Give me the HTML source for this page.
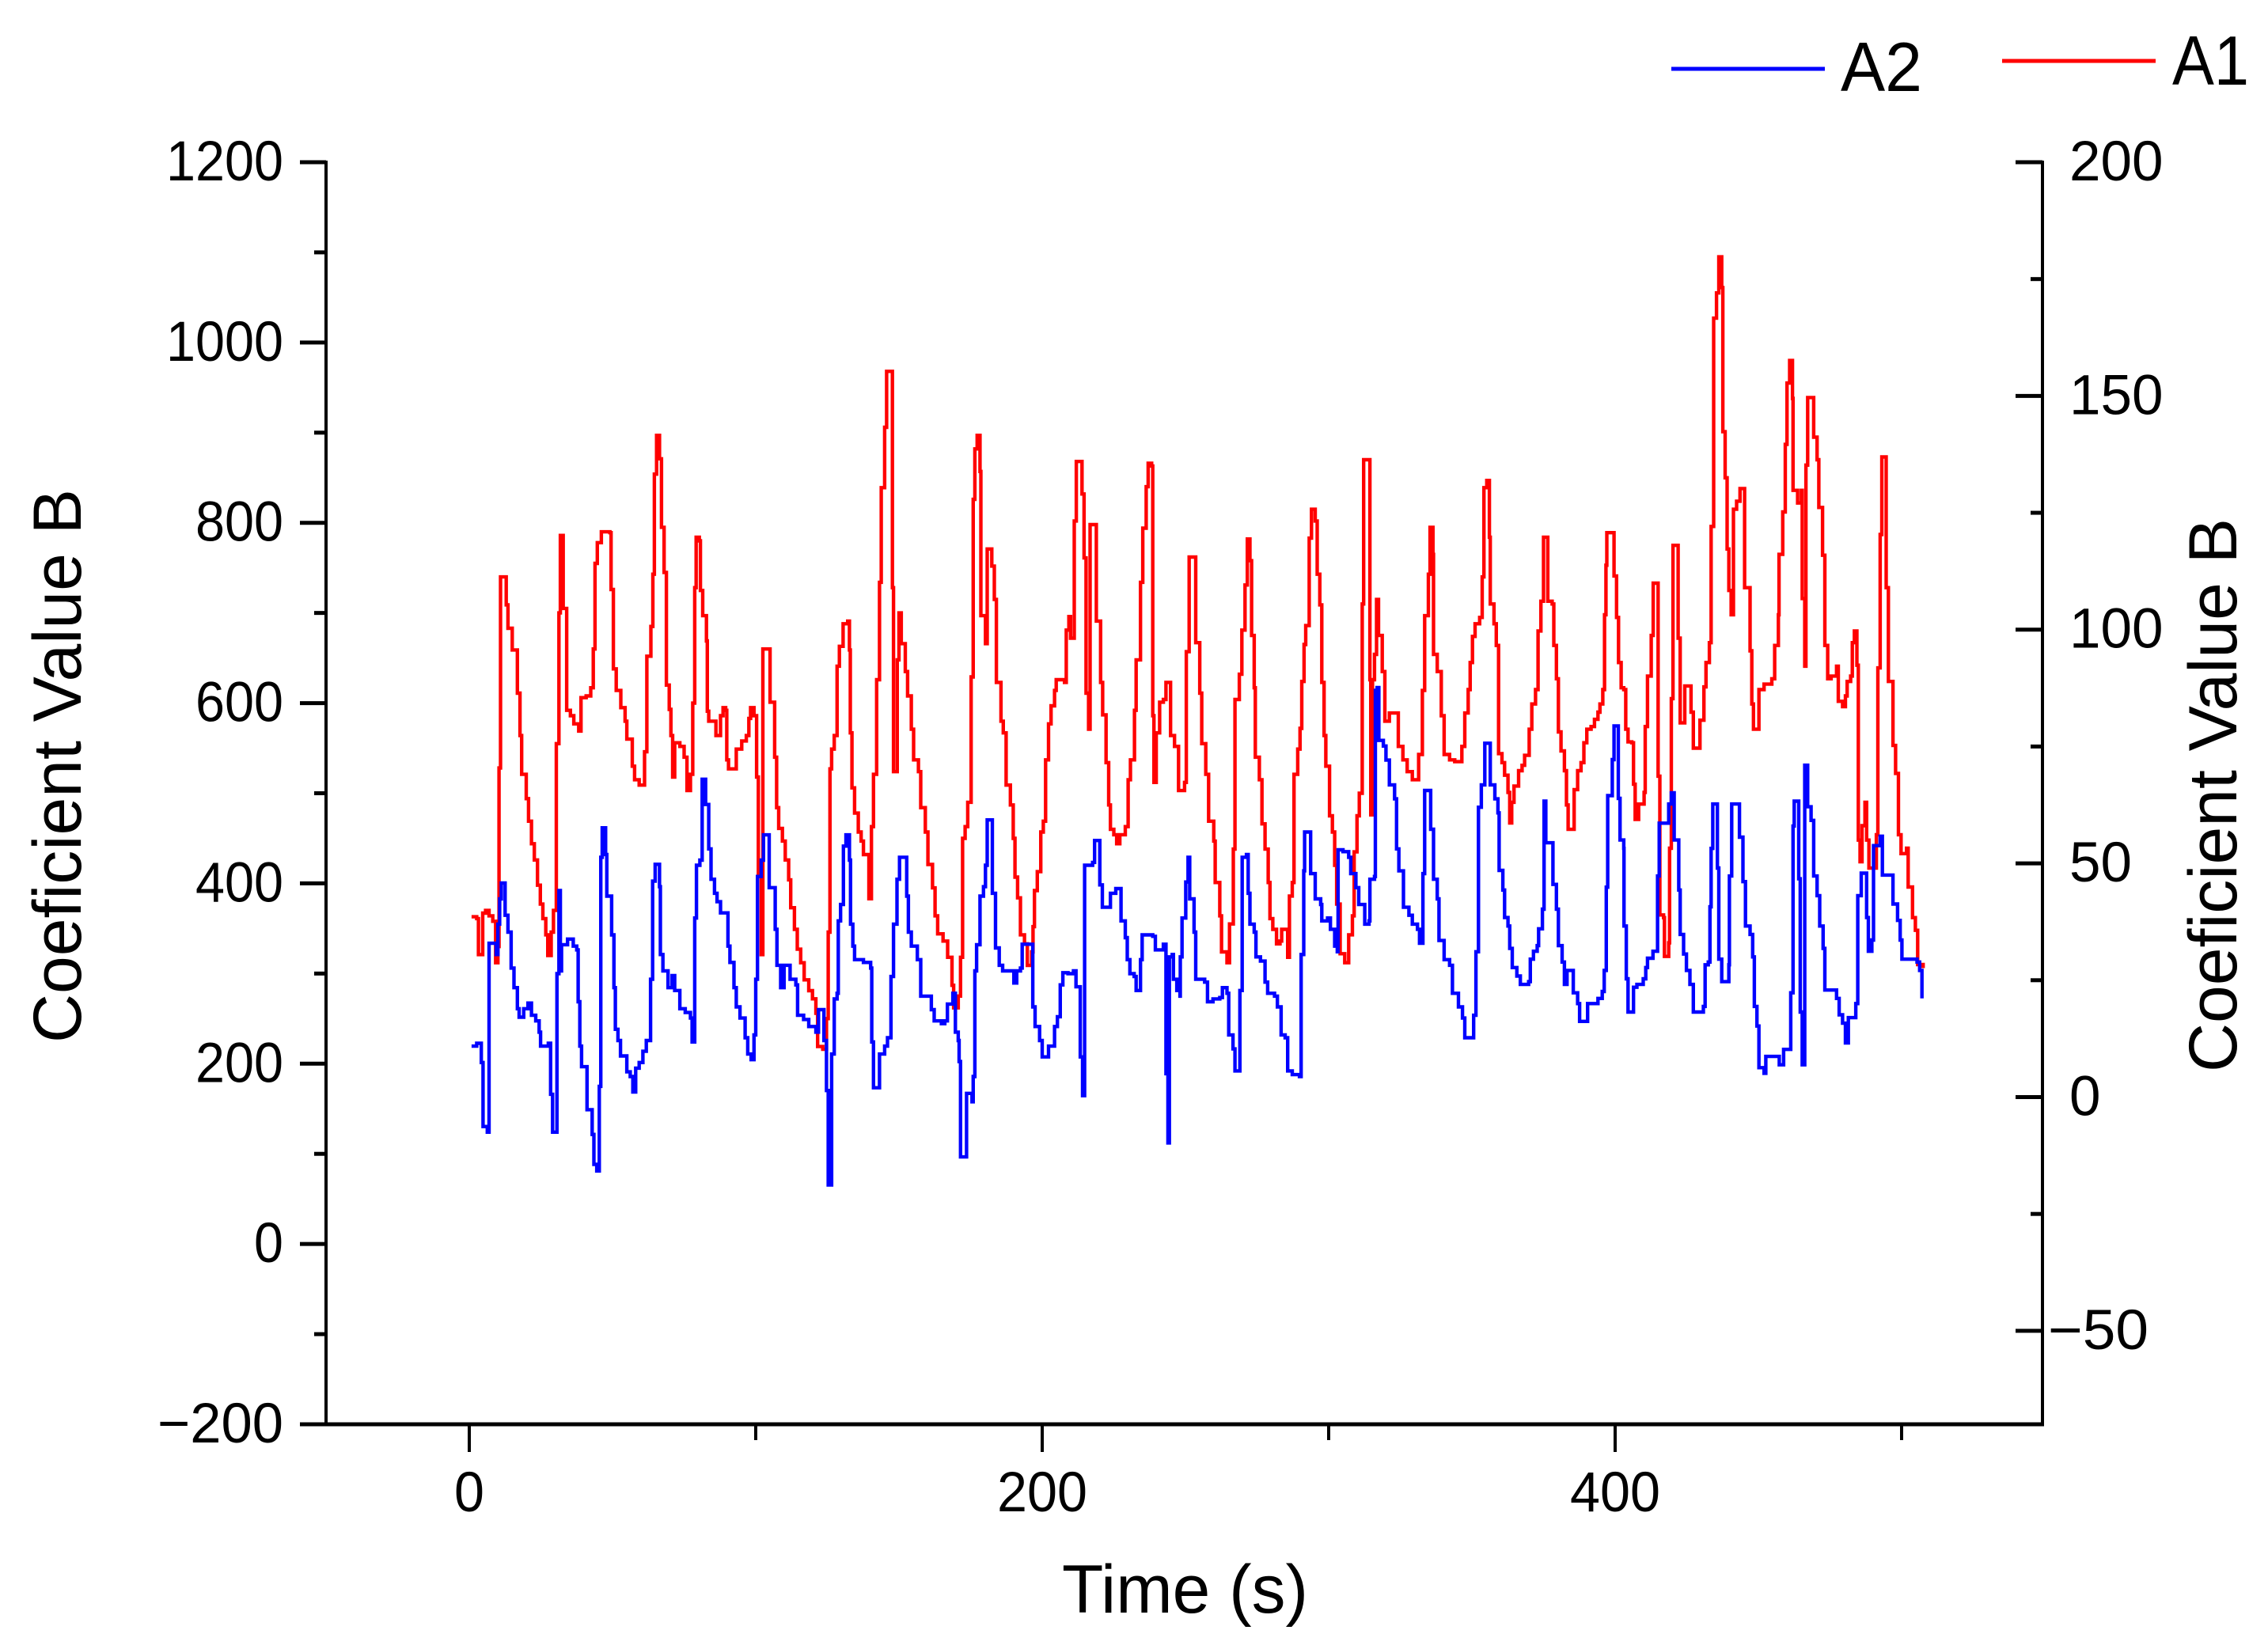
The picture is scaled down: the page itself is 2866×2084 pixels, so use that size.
<!DOCTYPE html>
<html lang="en">
<head>
<meta charset="utf-8">
<title>Coefficient Value B over Time</title>
<style>
html,body{margin:0;padding:0;background:#fff;}
svg{display:block;font-family:"Liberation Sans",Arial,sans-serif;fill:#000;}
</style>
</head>
<body>
<svg id="chart" xmlns="http://www.w3.org/2000/svg" width="2866" height="2084" viewBox="0 0 2866 2084">
  <rect x="0" y="0" width="2866" height="2084" fill="#ffffff"/>
  <g id="marks"></g>
  <g id="axes"></g>
  <text transform="translate(102,1318) rotate(-90)" font-size="86" textLength="700" lengthAdjust="spacingAndGlyphs">Coeficient Value B</text>
  <text transform="translate(2826,1355) rotate(-90)" font-size="86" textLength="700" lengthAdjust="spacingAndGlyphs">Coeficient Value B</text>
  <text x="1342" y="2038" font-size="86" textLength="311" lengthAdjust="spacingAndGlyphs">Time (s)</text>
  <g>
    <rect x="2112" y="84.5" width="194" height="5" fill="#0000ff"/>
    <text x="2326" y="115" font-size="88" textLength="103" lengthAdjust="spacingAndGlyphs">A2</text>
  </g>
  <g>
    <rect x="2530" y="74.5" width="194" height="5" fill="#ff0000"/>
    <text x="2745" y="107" font-size="88" textLength="97" lengthAdjust="spacingAndGlyphs">A1</text>
  </g>
</svg>
<script>
const a1Times = [
0.8,2.6,3.2,4.7,5.7,6.9,8.2,9.2,10,10.4,10.9,12.9,13.5,15,16.8,17.7,18.3,19.9,20.7,21.7,
22.7,23.8,24.8,25.7,26.7,27.4,28.6,29.4,30.4,31.3,31.8,32.8,34,35.3,36.5,38.2,39,40.8,42.4,43.3,
43.9,44.7,46.1,49.1,49.5,50.3,51.3,52.9,54.4,55,56.9,57.7,59.3,61.2,62,63.4,64.1,64.6,65.4,66.4,
67.1,68,68.8,69.8,70.4,71,71.7,73.5,75,76,77.2,78,78.7,79.2,80.3,80.7,81.5,82.8,83.1,83.6,
85.2,86.1,87.7,88.6,89.5,89.9,90.5,92.3,93.2,95.1,96.7,97.6,98.2,99.4,100.3,100.9,101.9,102.5,104.1,105,
106.6,107.3,108,109.3,110.3,111.5,112.2,113.5,114.5,115.7,116.9,118.5,119.8,121,121.6,123.4,124.7,125.3,125.9,126.5,
127.4,128.4,129.2,130.5,132.1,132.7,133,133.6,134.5,135.8,136.8,137.6,139.5,140.4,141.1,142.2,143.2,143.8,145,145.7,
147.7,148.1,149.4,150,150.8,152.2,153,154.3,155.1,156.8,157.6,159.2,160.1,161.7,162.6,163.5,165.4,167,168.5,169.1,
170.7,171.5,172.2,173.1,174,175.2,175.9,176.5,177.3,178.3,178.6,180.2,180.8,182.4,183.3,184,185.6,186.4,187.4,188.9,
189.9,190.5,191.4,192.4,193.8,194.8,196.3,196.8,197.3,198.3,199.5,200.4,201.2,202.2,203.1,204.3,204.9,207.8,208.4,209.3,
209.9,211.2,211.9,213.9,214.6,215.3,216.2,216.7,218.9,220.4,221.1,222.3,223.2,223.8,225,226,227.1,229,230,230.8,
232.2,232.8,234.3,235.1,236.3,237,238.2,238.6,239,239.8,241,242.3,243.2,244.8,246.2,247.6,249.7,250.3,251.3,253.6,
255,255.7,257.1,258.1,259.9,260.4,262,262.6,264.5,265.4,266.7,267.3,268.8,269.7,270.8,271.6,272.5,273.1,274,274.4,
275.8,276.7,277.8,278.9,279.5,280.5,281.8,283,283.6,285.1,285.7,286.3,287.3,287.9,289.2,290,290.6,291.4,292,293.2,
294,295.3,296,296.9,297.6,298.4,299,300.3,301.3,302.1,302.8,304,305.6,307,308.3,308.9,309.9,310.7,311.7,312.2,
314.4,314.7,315.3,316,316.7,317.4,318.7,319.6,321.2,323,324.3,325.9,327.4,329.2,331.4,332.7,333.5,334.8,335.4,336.4,
336.6,337.9,339.3,340.3,342.2,344,346.5,347.5,348.7,349.4,350.2,351.1,352.7,353.6,354.2,355.2,356.1,356.4,357.7,358.5,
359.3,360.5,361.4,362.6,363.2,363.9,364.7,366.3,367.5,368.4,370,370.9,372.2,373.1,374.1,375,376.5,378,378.6,379.5,
380.2,381.1,382.3,383,383.6,385.7,386.9,388.1,389.1,390.1,391.6,392.8,394,394.7,395.7,396.3,396.8,397.1,399.6,400.5,
401.2,402.1,403,403.7,404.5,405.8,406.4,407,408.2,410.1,410.5,411.3,412.6,413.3,415,415.6,416.9,417.2,418.7,419,
419.6,420.2,422,422.7,424.3,426.5,427.3,429.6,431,431.7,432.9,433.5,434.4,435.4,436.2,437.2,437.6,438.4,439.1,439.7,
440.5,441.3,442.4,443.6,445.2,447.1,447.7,448.3,450.2,452,454.7,455.7,457,457.2,458.5,459.4,460,460.9,461.9,462.1,
463.7,465,465.3,466.2,466.6,467.2,469.3,470.5,471.1,472.4,473.2,474.2,475.4,477.3,477.9,479.4,480.4,481,482.2,482.8,
483.5,484.4,484.9,485.5,486.2,487.2,487.8,488.6,491.2,491.7,492.5,493.1,494.6,495.4,497,497.9,498.9,499.8,501.7,502.3,
503.8,504.8,505.6,507.5
];
const a1Values = [
363,361,321,367,370,364,358,312,330,528,740,709,683,659,611,564,521,494,469,444,
426,398,377,361,343,320,346,370,555,700,786,705,592,586,577,569,606,608,617,660,
755,778,790,789,726,638,614,595,580,560,530,515,509,546,652,685,743,854,897,871,
795,745,620,593,564,518,556,552,540,503,521,600,728,784,780,725,697,669,591,580,
580,564,586,595,592,537,527,527,549,558,564,583,595,586,518,411,321,660,660,601,
540,484,461,447,426,404,373,349,327,312,293,281,272,256,219,216,250,346,527,549,
564,641,663,688,691,659,567,506,478,457,447,432,383,463,521,626,734,839,906,968,
728,524,648,700,666,635,608,571,537,524,484,457,421,395,364,344,336,318,287,262,
275,318,450,463,490,629,826,882,897,857,697,666,771,752,715,623,580,567,509,487,
450,407,384,343,333,309,324,352,392,413,457,469,537,577,597,614,626,623,681,696,
672,802,868,832,761,611,571,798,691,623,587,534,487,460,454,444,454,463,515,537,
592,648,734,794,840,866,863,586,512,567,601,604,623,564,552,503,512,657,762,667,
611,555,521,469,447,401,364,324,312,355,438,604,632,681,731,782,758,675,617,540,
515,466,438,401,361,349,333,336,349,349,318,386,401,521,549,572,624,665,686,783,
815,802,743,709,623,564,530,475,457,420,377,322,312,343,364,435,475,500,710,870,
626,476,626,654,715,675,635,580,589,589,552,537,524,515,543,614,697,743,795,765,
654,635,586,543,537,535,552,589,615,645,674,688,695,740,839,847,784,710,688,664,
544,534,520,501,467,490,508,525,531,542,571,599,615,680,713,784,713,710,664,627,
568,547,525,487,460,504,525,534,556,571,574,582,590,599,615,698,753,789,741,695,
645,617,615,571,557,556,510,471,488,501,574,630,675,733,519,365,362,319,334,439,
605,775,672,578,619,590,550,581,618,645,667,796,1027,1055,1095,1061,901,850,771,725,
698,815,824,838,728,658,599,571,615,621,627,664,698,765,812,887,955,980,938,836,
822,836,716,641,864,939,895,870,817,764,664,627,630,641,602,596,608,624,630,667,
680,642,448,424,464,490,448,417,454,639,787,873,728,624,553,522,454,433,439,396,
362,348,310,306
];
const a2Times = [
0.8,2.6,4.2,4.8,6.3,6.9,9.4,10,10.6,11.2,12.5,13.5,14.6,15.6,16.8,17.4,19,20.5,21.7,23.2,
24.4,24.9,27.6,28.4,29.1,30.6,31.3,31.8,32.2,34.3,36.3,37.5,38,38.6,39.2,41.1,42.9,43.5,44.5,45.4,
45.9,46.4,47.6,48,49.7,50.5,51,51.9,52.8,55,56.2,57.1,58.1,59.3,60.6,61.8,63.3,64,64.9,66.4,
66.7,67.6,69.4,70.8,71.7,73.5,75.4,77.2,77.8,78.7,79.3,80.5,81.3,82.5,83.6,84.4,85.6,86.5,87.7,90.3,
91,92.4,93.2,94.5,96.3,97.2,98.4,99.4,100,100.6,101.9,102.7,104.7,106.8,107.4,108.7,109.9,112,114,114.6,
116.7,118.5,121,121.9,123.8,124.7,125.3,126.5,127.4,128.4,128.8,129.6,130.6,131.5,132.7,133.1,133.9,134.5,137.6,140.1,
140.5,141.1,143.2,145,146,147.2,148.1,149.3,150.2,152.7,153.3,154.3,156.4,157.6,161.3,162.3,164.8,166,166.9,168.8,
169.7,170.7,171,171.5,173.6,175.5,175.9,176.5,177.1,178.3,179.5,180.2,180.8,182.6,183.7,185,186.2,190.1,191.1,192.4,
193,196.7,197.5,199.1,200,202.2,204.3,205.3,206.3,207.2,209,210.9,211.8,213.3,214.1,214.8,217.6,218.3,220.1,221,
223.8,225.7,227.5,229,229.7,230.6,232.1,232.8,234.3,234.9,238.6,239.5,242.3,243.2,243.9,244.4,245.4,245.8,247,248.1,
248.2,248.8,250.1,250.9,251.5,253,253.6,256.7,257.7,259.6,262,262.9,264.5,265.1,266.6,267.3,269,269.8,271.3,271.9,
272.5,274,274.6,276.2,277.8,278.7,281.1,282.1,283.4,284.8,285.7,287.3,289.8,290.4,291.3,291.6,293.7,295.3,297.2,297.6,
299.6,300.6,302.1,303,303.3,305,307,307.7,309.5,310.5,312.6,314.1,314.4,316,316.3,316.9,317.5,319.1,320,321.2,
323,323.7,324.5,326.1,328,329.2,331,331.7,332.9,333.5,335.6,336.6,337.9,338.5,340.3,342.2,343.2,345.3,346.7,347.5,
350.6,351.4,352.3,353.3,354.5,356.4,358,359.1,359.5,360.8,361.4,362.6,363.2,364.1,365.7,366.9,369.8,370.4,371.5,372.8,
373.3,374.6,375.2,375.8,377.9,378.3,379.5,380.2,381.5,382.3,383.2,385.4,386.9,387.6,390.4,394,395.5,396.2,396.9,397.4,
399,399.6,401.1,401.7,403,403.1,403.9,404.5,406.4,407.6,409.8,410.7,411.3,413.2,414.8,415.4,418.7,419.6,420.6,422.2,
422.7,423.9,424.9,426.1,427.3,430.8,431.4,432.5,433.1,433.5,434.1,435.7,436.2,437.2,439.7,439.9,440.7,443.4,444.6,445.5,
447.1,448,448.6,449.5,450.2,452,452.6,457.3,458.8,461.3,462.1,462.5,464.1,464.6,465.3,466.2,467.2,468.4,469.3,470.5,
471.4,472.6,473.2,477.3,478.2,479.4,480.4,481.4,484,484.7,485.9,487.8,488.4,489.6,490.2,492.5,493.3,497,498.6,499.5,
500.1,505.4,506.3,507.1
];
const a2Values = [
10.9,11.5,7.4,-6.3,-7.5,32.9,30.5,37,42.4,45.8,38.9,35.3,27.6,23.4,18.9,17.1,18.9,20.1,17.5,16.3,
13.9,10.9,11.5,0.6,-7.5,26.4,44.2,27,32.6,33.8,32.3,31.5,20.4,10.9,6.5,-2.7,-8,-14.4,-15.8,2.3,
51.3,57.6,51.9,43,34.7,23.4,14.5,12.1,8.8,5.4,4.4,1.1,6.2,7.4,9.8,12.1,25.2,46.2,49.8,45,
30.5,27,23.4,26,22.8,18.9,18.1,16.9,11.8,38.3,49.6,50.7,68,62.6,53.1,46.6,43.6,41.8,39.4,32.3,
28.8,23.4,19.3,16.9,12.7,9.2,8,13.3,25.2,47.2,50.7,56.1,44.8,35.9,28.2,23.4,28.2,25.2,24,17.5,
16.6,15.1,13.9,18.7,12.1,1.4,-18.8,9.2,21,22.2,37.7,41.2,53.7,56.1,50.7,37,32.3,29.4,28.8,27.6,
11.8,2,9.2,10.9,12.7,25.8,37,46.6,51.3,43,35.3,32.3,29.4,21.6,18.7,16.3,15.7,16.3,19.9,22.2,
13.9,12.1,7.6,-12.8,0.8,-1,4.4,27,32.6,43,45,49.6,59.3,43.6,31.9,28.2,27,24.4,27,27.6,
32.7,19.3,15.1,12.1,8.6,10.9,15.1,17.2,24,26.6,26.4,27,23.6,8.6,0.3,49.6,50.2,54.9,45.4,40.6,
43.6,44.6,37.7,34.1,29.4,26.4,25.8,22.8,29.4,34.7,34.4,31.5,32.7,5,-9.8,30,30.5,25.2,22.8,21.6,
30,38.3,46,51.3,42.4,35.3,25.2,24.6,20.4,21,21.3,23.4,22.2,13.3,10.3,5.6,22.8,51.3,51.9,43.6,
37,35.3,30,29.1,24.6,22.2,21.6,19.3,13.3,12.7,5.6,4.8,4.4,30.5,48.4,56.7,47.8,42.4,41.2,37.7,
38.3,35.9,32.3,31.1,52.9,52.5,51.3,47.8,44.8,41.2,37,37.7,46.6,47.2,87,87.6,76.3,75.1,72.1,66.8,
63.8,53.1,48.4,40.6,38.9,37,35.9,32.9,47.8,65.6,57.3,46.6,42.4,33.5,29.4,28.2,22.2,19.3,16.9,12.7,
17.5,31.1,62,66.8,75.7,66.8,63.8,60.8,48.5,44.3,38.4,36.6,31.8,27.7,25.9,24.1,24.7,29.5,31.2,32.4,
36,40.2,63.3,54.4,54.4,45.5,40.2,32.4,28.9,24.1,27.1,22.3,20,16.2,20,21.1,22.6,27.1,44.9,64.5,
72.2,79.4,63.9,55,53.2,36.6,25.3,18.2,23.5,24.1,25.3,27.7,29.7,31.2,47.3,58.6,62.7,65.1,55,44.3,
34.8,30.6,27.1,24.1,18.2,19.4,28.3,28.9,40.7,53.2,62.7,49,29.5,24.7,28.3,47.3,62.7,55.6,46.1,36.6,
34.8,30,19.4,15.2,6.3,5.1,8.7,6.9,10.2,22.3,58,63.3,46.7,18.2,6.9,71,62.1,59.2,47.3,43.1,
36.6,31.8,22.9,21.1,17.6,15.8,11.6,17,20,43.1,47.9,38.4,31.2,33.6,53.8,55.8,47.5,41.3,37.8,33.6,
29.5,28.9,27.1,21.1
];
const xMajorTicks = [0, 200, 400];
const xMinorTicks = [100, 300, 500];
const leftMajorTicks = [1200, 1000, 800, 600, 400, 200, 0, -200];
const leftMinorTicks = [1100, 900, 700, 500, 300, 100, -100];
const rightMajorTicks = [200, 150, 100, 50, 0, -50];
const rightMinorTicks = [175, 125, 75, 25, -25];

const plotLeft = 412, plotRight = 2581, plotTop = 205, plotBottom = 1800;
const xAt = t => 593 + t * 3.62;
const yLeft = v => plotBottom - (v + 200) * (plotBottom - plotTop) / 1400;
const yRight = v => plotBottom - (v + 70) * (plotBottom - plotTop) / 270;
const svgNS = 'http://www.w3.org/2000/svg';
const marksGroup = document.getElementById('marks');
const axesGroup = document.getElementById('axes');

function stepPath(times, values, yScale) {
  const n = Math.min(times.length, values.length);
  let d = 'M' + xAt(times[0]).toFixed(1) + ' ' + yScale(values[0]).toFixed(1);
  for (let i = 1; i < n; i++) {
    const x = xAt(times[i]).toFixed(1);
    d += 'L' + x + ' ' + yScale(values[i - 1]).toFixed(1);
    d += 'L' + x + ' ' + yScale(values[i]).toFixed(1);
  }
  return d;
}
function makePath(d, color, width) {
  const p = document.createElementNS(svgNS, 'path');
  p.setAttribute('d', d);
  p.setAttribute('fill', 'none');
  p.setAttribute('stroke', color);
  p.setAttribute('stroke-width', width);
  p.setAttribute('stroke-linejoin', 'miter');
  p.setAttribute('stroke-miterlimit', '3');
  return p;
}
function makeLine(x1, y1, x2, y2, width) {
  const l = document.createElementNS(svgNS, 'line');
  l.setAttribute('x1', x1);
  l.setAttribute('y1', y1);
  l.setAttribute('x2', x2);
  l.setAttribute('y2', y2);
  l.setAttribute('stroke', '#000');
  l.setAttribute('stroke-width', width);
  return l;
}
function makeText(str, x, y, anchor, digitWidth) {
  const t = document.createElementNS(svgNS, 'text');
  t.setAttribute('x', x);
  t.setAttribute('y', y);
  t.setAttribute('font-size', '71');
  t.setAttribute('text-anchor', anchor);
  const neg = str.charAt(0) === '\u2212';
  const len = (neg ? str.length - 1 : str.length) * digitWidth + (neg ? 48 : 0);
  t.setAttribute('textLength', len);
  t.setAttribute('lengthAdjust', 'spacingAndGlyphs');
  t.textContent = str;
  return t;
}
const fmt = v => (v < 0 ? '\u2212' + Math.abs(v) : String(v));

const a1Path = makePath(stepPath(a1Times, a1Values, yLeft), '#ff0000', 4.4);


marksGroup.appendChild(a1Path);

const a2Path = makePath(stepPath(a2Times, a2Values, yRight), '#0000ff', 4.4);


marksGroup.appendChild(a2Path);

const leftAxis = makeLine(plotLeft, plotTop - 2, plotLeft, plotBottom + 2, 4);


axesGroup.appendChild(leftAxis);

const rightAxis = makeLine(plotRight, plotTop - 2, plotRight, plotBottom + 2, 4);


axesGroup.appendChild(rightAxis);

const bottomAxis = makeLine(plotLeft, plotBottom, plotRight + 2, plotBottom, 5);


axesGroup.appendChild(bottomAxis);

xMajorTicks.forEach(v => {
  const tick = makeLine(xAt(v), plotBottom, xAt(v), plotBottom + 35, 4);
  
  
  axesGroup.appendChild(tick);
  const label = makeText(fmt(v), xAt(v), 1910, 'middle', 38);
  
  
  axesGroup.appendChild(label);
});
xMinorTicks.forEach(v => {
  const tick = makeLine(xAt(v), plotBottom, xAt(v), plotBottom + 20, 4);
  
  
  axesGroup.appendChild(tick);
});
leftMajorTicks.forEach(v => {
  const tick = makeLine(plotLeft - 33, yLeft(v), plotLeft, yLeft(v), 5);
  
  
  axesGroup.appendChild(tick);
  const label = makeText(fmt(v), 358, yLeft(v) + 23, 'end', 37);
  
  
  axesGroup.appendChild(label);
});
leftMinorTicks.forEach(v => {
  const tick = makeLine(plotLeft - 15, yLeft(v), plotLeft, yLeft(v), 5);
  
  
  axesGroup.appendChild(tick);
});
rightMajorTicks.forEach(v => {
  const tick = makeLine(plotRight - 34, yRight(v), plotRight, yRight(v), 5);
  
  
  axesGroup.appendChild(tick);
  const label = makeText(fmt(v), v < 0 ? 2588 : 2615, yRight(v) + 23, 'start', 39.5);
  
  
  axesGroup.appendChild(label);
});
rightMinorTicks.forEach(v => {
  const tick = makeLine(plotRight - 15, yRight(v), plotRight, yRight(v), 5);
  
  
  axesGroup.appendChild(tick);
});
</script>
</body>
</html>
